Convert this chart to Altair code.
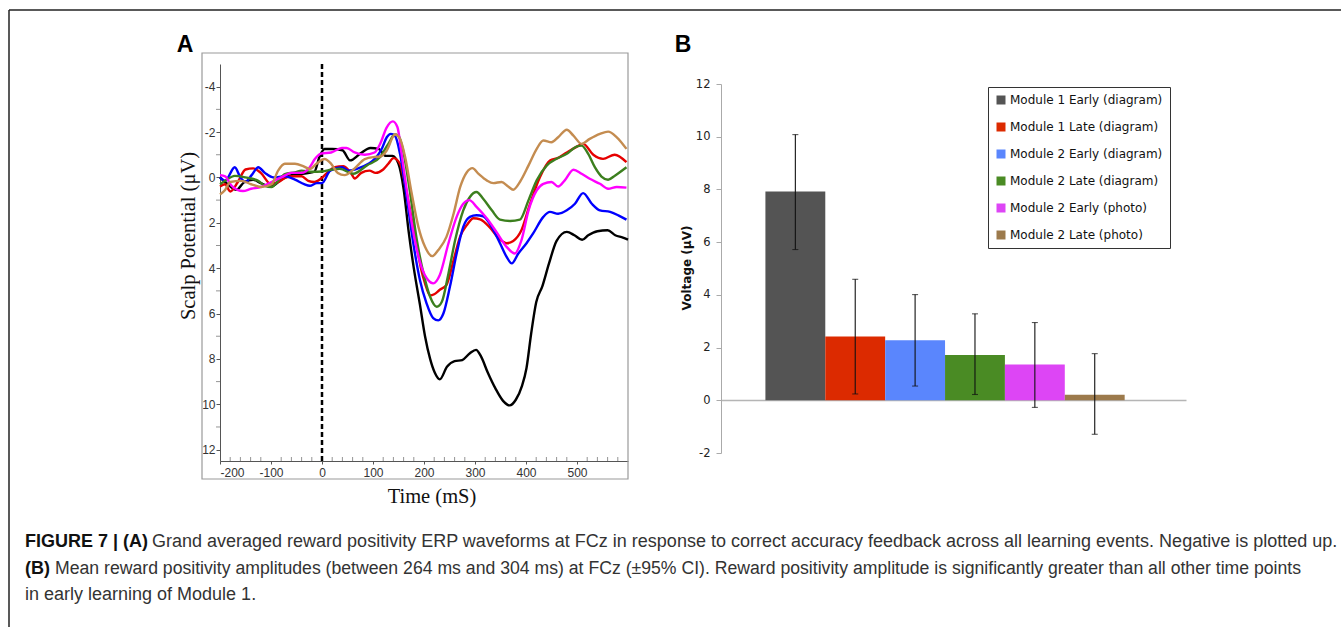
import altair as alt
import pandas as pd

# ---------------- data ----------------
conditions = [
    "Module 1 Early (diagram)",
    "Module 1 Late (diagram)",
    "Module 2 Early (diagram)",
    "Module 2 Late (diagram)",
    "Module 2 Early (photo)",
    "Module 2 Late (photo)",
]
bar_colors = ["#545454", "#dc2a00", "#5a86fd", "#4a8b24", "#dd45f5", "#9c7a4c"]
line_colors = ["#000000", "#e60000", "#0000ff", "#3c7f1e", "#ff00ff", "#c48c50"]

bar_means = [7.92, 2.42, 2.28, 1.72, 1.36, 0.21]
ci_low = [5.72, 0.24, 0.54, 0.22, -0.27, -1.29]
ci_high = [10.08, 4.59, 4.01, 3.28, 2.95, 1.77]

t_black = [-200, -185, -168, -152, -135, -120, -100, -80, -60, -40, -25, -15, -5, 5, 20, 40, 55, 75, 95, 112,
           125, 138, 150, 160, 170, 180, 192, 202, 212, 221, 231, 245, 260, 275, 290, 302, 312, 325, 340, 355,
           368, 380, 392, 401, 410, 420, 432, 445, 460, 480, 495, 510, 522, 540, 560, 575, 590, 600]
v_black = [0.0, 0.3, 0.55, 0.2, 0.1, 0.25, 0.4, 0.1, -0.1, -0.15, -0.2, -0.25, -0.9, -1.25, -1.25, -1.2, -0.75,
           -1.05, -1.3, -1.25, -0.95, -0.95, -0.6, 0.5, 2.4, 4.0, 5.6, 7.0, 8.0, 8.6, 8.9, 8.35, 8.1, 8.05, 7.75,
           7.6, 7.9, 8.6, 9.3, 9.85, 10.05, 9.8, 9.2, 8.4, 6.9, 5.5, 4.8, 3.8, 2.8, 2.4, 2.55, 2.75, 2.55, 2.37,
           2.33, 2.55, 2.65, 2.74]

t_red = [-200, -190, -180, -165, -150, -135, -120, -100, -85, -70, -55, -40, -27, -15, -2, 10, 25, 42, 58, 64,
         77, 93, 105, 120, 130, 140, 153, 160, 169, 178, 186, 194, 202, 212, 220, 231, 244, 258, 271, 284, 297,
         310, 329, 349, 362, 375, 391, 408, 427, 447, 463, 480, 499, 512, 532, 551, 574, 597]
v_red = [0.4, 0.3, 0.62, 0.2, -0.35, -0.4, -0.2, 0.3, 0.2, 0.0, -0.05, -0.05, 0.15, 0.2, 0.05, -0.2, -0.45,
         -0.5, -0.15, 0.05, -0.2, -0.3, -0.2, -0.35, -0.6, -0.85, -0.6, 0.0, 1.0, 2.1, 3.06, 4.0, 4.67, 5.2,
         5.15, 4.95, 4.74, 3.65, 2.6, 2.1, 1.8, 1.85, 2.2, 2.74, 2.9, 2.8, 2.33, 1.16, 0.0, -0.75, -0.86, -1.1,
         -1.35, -1.48, -1.0, -0.82, -1.0, -0.67]

t_blue = [-200, -190, -171, -160, -150, -138, -125, -112, -95, -73, -53, -35, -24, -10, 0, 16, 39, 52, 71, 91,
          105, 118, 127, 135, 143, 153, 166, 179, 192, 205, 218, 228, 238, 251, 264, 277, 290, 303, 316, 329,
          349, 362, 372, 385, 401, 414, 434, 447, 463, 480, 496, 512, 529, 545, 565, 581, 597]
v_blue = [0.0, 0.15, -0.45, 0.0, 0.2, -0.1, -0.45, -0.2, 0.0, -0.05, 0.1, 0.3, 0.37, 0.25, 0.25, -0.3, -0.45,
          -0.3, -0.4, -0.6, -0.85, -1.3, -1.77, -1.92, -1.84, -1.04, 0.86, 2.9, 4.52, 5.55, 6.2, 6.3, 6.0, 4.8,
          3.35, 2.18, 1.74, 1.67, 1.71, 2.04, 2.9, 3.5, 3.79, 3.35, 2.9, 2.47, 1.74, 1.52, 1.6, 1.45, 1.16, 0.69,
          1.16, 1.45, 1.52, 1.67, 1.86]

t_green = [-200, -190, -171, -150, -125, -112, -99, -86, -73, -53, -40, -20, 0, 20, 35, 61, 88, 114, 130, 143,
           150, 159, 173, 186, 199, 212, 225, 235, 248, 261, 277, 290, 303, 316, 333, 349, 369, 388, 405, 421,
           441, 460, 480, 499, 509, 522, 535, 548, 561, 575, 597]
v_green = [0.3, 0.15, -0.07, 0.0, 0.15, 0.37, 0.42, 0.15, -0.15, -0.22, -0.3, -0.25, -0.26, -0.35, -0.38,
           -0.16, -0.53, -0.9, -1.48, -1.89, -1.84, -1.19, 0.72, 2.77, 4.23, 5.26, 5.7, 5.48, 4.23, 2.77, 1.45,
           0.86, 0.64, 0.94, 1.45, 1.86, 1.92, 1.86, 1.0, 0.13, -0.53, -0.82, -1.04, -1.36, -1.4, -1.04, -0.45,
           -0.04, 0.1, -0.09, -0.45]

t_magenta = [-200, -190, -177, -155, -139, -119, -99, -80, -60, -40, -24, -14, -2, 18, 39, 48, 64, 84, 103,
             114, 127, 139, 148, 156, 169, 182, 195, 208, 218, 231, 248, 264, 277, 289, 303, 323, 342, 362, 378,
             391, 405, 421, 434, 450, 463, 476, 493, 509, 525, 545, 561, 578, 597]
v_magenta = [-0.1, -0.05, 0.37, 0.6, 0.5, 0.42, 0.2, 0.0, -0.2, -0.2, -0.45, -0.81, -1.05, -1.1, -1.3, -1.3,
             -1.1, -1.0, -1.1, -1.48, -2.21, -2.47, -2.21, -1.04, 1.0, 2.77, 3.94, 4.52, 4.67, 4.3, 2.9, 1.74,
             1.16, 1.0, 1.3, 1.8, 2.4, 3.06, 3.35, 2.77, 1.45, 0.57, 0.28, 0.2, 0.4, 0.13, -0.34, -0.16, 0.06,
             0.28, 0.5, 0.42, 0.45]

t_brown = [-200, -190, -180, -158, -139, -119, -99, -86, -73, -53, -37, -24, -11, 5, 18, 31, 44, 64, 84, 103,
           114, 127, 143, 153, 163, 176, 189, 202, 216, 228, 244, 258, 271, 284, 295, 307, 323, 336, 352, 365,
           375, 388, 405, 421, 434, 450, 463, 480, 493, 509, 525, 545, 561, 578, 597]
v_brown = [0.75, 0.55, 0.2, 0.15, 0.3, 0.42, 0.3, -0.3, -0.6, -0.6, -0.5, -0.37, -0.6, -0.81, -0.6, -0.2, -0.1,
           -0.4, -0.81, -0.9, -0.92, -1.19, -1.89, -1.7, -0.9, 0.72, 2.18, 3.06, 3.47, 3.2, 2.62, 1.6, 0.42,
           -0.23, -0.41, -0.16, 0.13, 0.25, 0.2, 0.4, 0.54, 0.2, -0.53, -1.26, -1.63, -1.55, -1.77, -2.1, -1.84,
           -1.48, -1.7, -1.92, -2.02, -1.77, -1.26]

wave_times = [t_black, t_red, t_blue, t_green, t_magenta, t_brown]
wave_values = [v_black, v_red, v_blue, v_green, v_magenta, v_brown]

time_ticks = [-200, -100, 0, 100, 200, 300, 400, 500]
time_minor = [t for t in range(-180, 600, 20) if t % 100 != 0]
uv_ticks = [-4, -2, 0, 2, 4, 6, 8, 10, 12]
uv_minor = [-3, -1, 1, 3, 5, 7, 9, 11]
volt_ticks = [-2, 0, 2, 4, 6, 8, 10, 12]
stimulus_onset = [0]

caption_bold = ["FIGURE 7 | (A)", "(B)"]
caption_text = [
    "Grand averaged reward positivity ERP waveforms at FCz in response to correct accuracy feedback across all learning events. Negative is plotted up.",
    "Mean reward positivity amplitudes (between 264 ms and 304 ms) at FCz (\u00b195% CI). Reward positivity amplitude is significantly greater than all other time points",
    "in early learning of Module 1.",
]

# ---------------- tables ----------------
rows = []
for i, (name, ts, vs) in enumerate(zip(conditions, wave_times, wave_values)):
    for t, v in zip(ts, vs):
        rows.append({"series": name, "idx": i, "time": t, "uv": v})
waves = pd.DataFrame(rows)
bars = pd.DataFrame({"condition": conditions, "mean": bar_means, "lo": ci_low, "hi": ci_high})
onset = pd.DataFrame({"time": stimulus_onset, "top": [-5], "bottom": [12.5]})
xminor = pd.DataFrame({"time": time_minor})
yminor = pd.DataFrame({"uv": uv_minor})
one = pd.DataFrame({"k": [0]})

W, H = 1341, 627

# ---------------- panel A ----------------
xA = alt.Scale(domain=[-200, 600], range=[220, 628], nice=False, zero=False)
yA = alt.Scale(domain=[-5, 12.5], range=[64, 461], nice=False, zero=False)

axis_font = dict(labelFont="Liberation Sans", labelFontSize=12, labelColor="#333")
xA_axis = alt.Axis(orient="bottom", offset=461 - H, values=time_ticks, title=None, grid=False,
                   labelExpr="toString(datum.value)", tickSize=3, tickColor="#555", domainColor="#555",
                   labelPadding=3, **axis_font)
yA_axis = alt.Axis(orient="left", offset=-220, values=uv_ticks, title=None, grid=False,
                   labelExpr="toString(datum.value)", tickSize=4, tickColor="#555", domainColor="#555",
                   labelPadding=1, **axis_font)

lines = alt.Chart(waves).mark_line(strokeWidth=2.4, interpolate="monotone").encode(
    x=alt.X("time:Q", scale=xA, axis=xA_axis),
    y=alt.Y("uv:Q", scale=yA, axis=yA_axis),
    color=alt.Color("series:N", scale=alt.Scale(domain=conditions, range=line_colors), legend=None),
    detail="idx:N",
)
dash = alt.Chart(onset).mark_rule(color="black", strokeWidth=2.5, strokeDash=[5, 3]).encode(
    x=alt.X("time:Q", scale=xA), y=alt.Y("top:Q", scale=yA), y2="bottom:Q"
)
xticks_minor = alt.Chart(xminor).mark_tick(color="#666", thickness=1, size=4, orient="vertical").encode(
    x=alt.X("time:Q", scale=xA), y=alt.value(459)
)
yticks_minor = alt.Chart(yminor).mark_tick(color="#666", thickness=1, size=4, orient="horizontal").encode(
    y=alt.Y("uv:Q", scale=yA), x=alt.value(218)
)
panelA = alt.layer(dash, xticks_minor, yticks_minor, lines)

frameA = alt.Chart(one).mark_rect(fill=None, stroke="#9a9a9a", strokeWidth=1.2).encode(
    x=alt.value(202), x2=alt.value(628), y=alt.value(53), y2=alt.value(479)
)

# ---------------- panel B ----------------
xB = alt.Scale(domain=conditions, range=[721, 1186], paddingInner=0, paddingOuter=0.883, align=0.42)
yB = alt.Scale(domain=[-2, 12], range=[453, 84], nice=False, zero=False)
xB_axis = alt.Axis(orient="bottom", offset=400 - H, labels=False, ticks=False, title=None, grid=False,
                   domainColor="#b5b5b5", domainWidth=1.5)
yB_axis = alt.Axis(orient="left", offset=-721, values=volt_ticks, title=None, grid=False,
                   labelExpr="toString(datum.value)", tickSize=5, tickColor="#aaa", domainColor="#aaa",
                   labelFont="DejaVu Sans", labelFontSize=11.5, labelColor="#222", labelPadding=6)

barsB = alt.Chart(bars).mark_bar().encode(
    x=alt.X("condition:N", sort=conditions, scale=xB, axis=xB_axis),
    y=alt.Y("mean:Q", scale=yB, axis=yB_axis),
    y2=alt.datum(0),
    color=alt.Color("condition:N", sort=conditions,
                    scale=alt.Scale(domain=conditions, range=bar_colors),
                    legend=alt.Legend(orient="none", legendX=988, legendY=87, title=None,
                                      direction="vertical", strokeColor="#333",
                                      padding=7, symbolType="square", symbolSize=81, symbolStrokeWidth=0,
                                      labelFont="DejaVu Sans", labelFontSize=12, labelColor="#111",
                                      labelOffset=3, rowPadding=15, fillColor="white")),
)
err = alt.Chart(bars).mark_rule(color="#111", strokeWidth=1.1).encode(
    x=alt.X("condition:N", sort=conditions, scale=xB), y=alt.Y("lo:Q", scale=yB), y2="hi:Q"
)
cap_lo = alt.Chart(bars).mark_tick(color="#111", thickness=1.1, size=6).encode(
    x=alt.X("condition:N", sort=conditions, scale=xB), y=alt.Y("lo:Q", scale=yB)
)
cap_hi = alt.Chart(bars).mark_tick(color="#111", thickness=1.1, size=6).encode(
    x=alt.X("condition:N", sort=conditions, scale=xB), y=alt.Y("hi:Q", scale=yB)
)
panelB = alt.layer(barsB, err, cap_lo, cap_hi)


# ---------------- text & frame ----------------
def label(text, x, y, **kw):
    return alt.Chart(one).mark_text(**kw).encode(x=alt.value(x), y=alt.value(y), text=alt.value(text))


CAP = 18
texts = [
    label("A", 185, 52, font="Liberation Sans", fontSize=23, fontWeight="bold", align="center", baseline="alphabetic"),
    label("B", 683, 52, font="Liberation Sans", fontSize=23, fontWeight="bold", align="center", baseline="alphabetic"),
    label("Scalp Potential (\u03bcV)", 189, 236, font="Liberation Serif", fontSize=20.5, angle=270,
          align="center", baseline="middle", color="#111"),
    label("Time (mS)", 432, 497, font="Liberation Serif", fontSize=20.5, align="center", baseline="middle",
          color="#111"),
    label("Voltage (\u03bcV)", 687, 268, font="DejaVu Sans", fontSize=12, fontWeight="bold", angle=270,
          align="center", baseline="middle", color="#111"),
    label(caption_bold[0], 25, 542, font="Liberation Sans", fontSize=CAP, fontWeight="bold", align="left",
          baseline="middle", color="#111"),
    label(caption_text[0], 152, 542, font="Liberation Sans", fontSize=CAP, align="left", baseline="middle",
          color="#333"),
    label(caption_bold[1], 25, 569, font="Liberation Sans", fontSize=CAP, fontWeight="bold", align="left",
          baseline="middle", color="#111"),
    label(caption_text[1], 55, 569, font="Liberation Sans", fontSize=17.65, align="left", baseline="middle",
          color="#333"),
    label(caption_text[2], 25, 595, font="Liberation Sans", fontSize=CAP, align="left", baseline="middle",
          color="#333"),
]

border_top = alt.Chart(one).mark_rule(color="#222", strokeWidth=1.5).encode(
    x=alt.value(9), x2=alt.value(W), y=alt.value(10)
)
border_left = alt.Chart(one).mark_rule(color="#222", strokeWidth=1.5).encode(
    x=alt.value(9), y=alt.value(10), y2=alt.value(H)
)

chart = alt.layer(border_top, border_left, frameA, panelA, panelB, *texts).resolve_scale(
    x="independent", y="independent", color="independent"
).properties(
    width=W, height=H, autosize=alt.AutoSizeParams(type="none"), padding=0, background="white"
).configure_view(stroke=None)

chart.save("out.html", embed_options={"renderer": "svg", "actions": False})
